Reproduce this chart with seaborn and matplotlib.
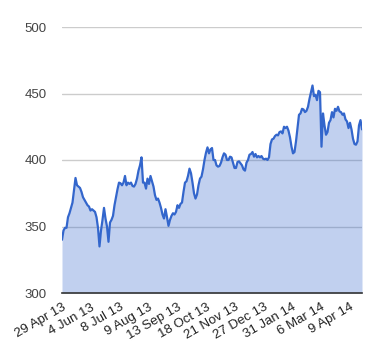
import numpy as np
import pandas as pd
import matplotlib
matplotlib.use("Agg")
import matplotlib.pyplot as plt
import seaborn as sns

# Daily closing values, 29 Apr 13 .. late Apr 14
values = [
    340, 347, 349, 349, 357, 360, 364, 368, 377, 386.5,
    381, 380, 379, 376, 372, 370, 368, 366, 365, 362,
    363, 362, 361, 357, 349, 335, 347, 355, 364, 356,
    350, 338.5, 353, 355, 358, 366, 372, 378, 383, 382.5,
    381, 383, 388, 381, 383, 382, 383, 380.5, 380, 382,
    386, 392, 396,
    402, 383, 383, 378.5, 386, 382, 388, 384, 380, 373.5,
    370, 371, 368, 364, 359, 356, 363, 357, 350.5, 355,
    358, 360, 359, 361, 366, 364, 367, 368, 376, 383,
    384, 388, 393.5, 390, 383, 375, 371, 374, 381, 386,
    387.5, 393, 400, 405.5, 409.5, 405, 408, 409, 400, 400,
    396, 395, 395.5, 398, 402, 405, 404, 400, 400, 402.5,
    402, 398, 394, 394, 398.5, 399, 397.5, 396, 393, 392,
    398, 400, 404, 404.5, 406, 402.5, 404.5, 402, 403, 402,
    403, 401, 400.5, 401, 400, 402, 412, 415.5, 416, 418,
    419, 418.5, 421, 421.5, 420, 425, 424, 425, 422, 417,
    410, 405, 406, 414, 424, 434, 435, 438.5, 438, 436,
    437, 440, 446, 451, 456, 448, 449, 445, 452, 451,
    410, 435, 426, 419, 421, 428, 430, 436, 432, 438.5,
    437, 440, 436.5, 436, 434, 435, 430.5, 429, 424, 428,
    423, 416, 412, 411.5, 414, 426, 430, 423,
]

tick_labels = ["29 Apr 13", "4 Jun 13", "8 Jul 13", "9 Aug 13", "13 Sep 13",
               "18 Oct 13", "21 Nov 13", "27 Dec 13", "31 Jan 14", "6 Mar 14",
               "9 Apr 14"]
y_ticks = [300, 350, 400, 450, 500]

df = pd.DataFrame({"i": np.arange(len(values)), "v": values})

sns.set_style("white")
plt.rcParams["font.family"] = ["Liberation Sans", "DejaVu Sans"]

fig = plt.figure(figsize=(3.8, 3.6), dpi=100)
ax = fig.add_axes([62 / 380, 1 - 293 / 360, 300 / 380, 266 / 360])

line_c = "#3366cc"
for yv in y_ticks[1:]:
    ax.axhline(yv, color="#cccccc", lw=1.0, zorder=1)

ax.fill_between(df["i"], df["v"], 300, color=line_c, alpha=0.3, lw=0, zorder=2)
sns.lineplot(data=df, x="i", y="v", ax=ax, color=line_c, lw=1.6, zorder=3)

ax.set_xlim(0, len(values) - 1)
ax.set_ylim(300, 500)
ax.set_yticks(y_ticks)
ax.set_yticklabels([str(t) for t in y_ticks], fontsize=9.5, color="#444444")
step = (len(values) - 1) / (300 / 28.8)
ax.set_xticks(np.arange(len(tick_labels)) * step)
ax.set_xticklabels(tick_labels, fontsize=9.5, color="#222222", rotation=30,
                   ha="right", va="top", rotation_mode="anchor")
ax.tick_params(axis="y", length=0, pad=11)
ax.tick_params(axis="x", length=0, pad=6)
ax.set_xlabel("")
ax.set_ylabel("")
for s in ["top", "right", "left"]:
    ax.spines[s].set_visible(False)
ax.spines["bottom"].set_color("#333333")
ax.spines["bottom"].set_linewidth(1.2)
ax.spines["bottom"].set_zorder(4)

fig.savefig("out.png", dpi=100)
